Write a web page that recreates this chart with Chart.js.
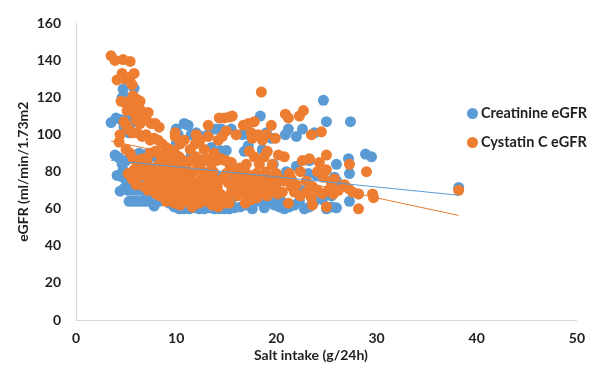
<!DOCTYPE html>
<html lang="en">

<head>
    <meta charset="UTF-8">
    <title>eGFR x Salt intake</title>
    <script src="https://cdn.jsdelivr.net/npm/chart.js@4.4.0/dist/chart.umd.min.js"></script>
    <style>
        body { margin: 0; background: #fff; }
        .caixa { position: relative; width: 595px; height: 372px; font-family: Lato, sans-serif; color: #1f1f1f; }
        .legenda { position: absolute; left: 467px; top: 104px; font-weight: bold; font-size: 14.5px; }
        .legenda div { height: 29px; line-height: 18px; white-space: nowrap; }
        .ponto { display: inline-block; width: 11px; height: 11px; border-radius: 50%; margin-right: 3px; vertical-align: -1px; }
        .titulo_x { position: absolute; left: 211px; width: 200px; top: 346px; text-align: center; font-weight: bold; font-size: 14px; }
    </style>
</head>

<body>
    <div class="caixa">
        <canvas id="grafico" width="595" height="372"></canvas>

        <!-- Legenda -->
        <div class="legenda">
            <div><span class="ponto" style="background:#5b9bd5"></span>Creatinine eGFR</div>
            <div><span class="ponto" style="background:#ed7d31"></span>Cystatin C eGFR</div>
        </div>
        <div class="titulo_x">Salt intake (g/24h)</div>
    </div>
</body>

</html>
<script>
    /* pontos [sal g/24h, eGFR] */
    var creatinina = [
        [3.5, 106.5], [4.0, 109], [4.5, 108], [4.8, 104], [5.1, 108], [5.5, 106],
        [4.7, 124.5], [5.8, 125], [4.6, 120], [5.0, 120], [5.5, 115], [5.3, 101],
        [3.9, 89], [4.3, 87.5], [4.6, 84], [5.0, 86], [4.7, 81], [4.1, 78], [4.5, 77.5], [4.9, 76], [5.2, 74],
        [4.4, 69.5], [4.8, 71], [5.2, 70], [5.6, 70], [6.0, 70], [6.4, 70], [6.8, 70], [7.2, 67],
        [5.3, 64], [5.7, 64], [6.1, 64], [6.5, 64], [6.9, 64], [7.3, 64], [7.8, 61.5], [8.3, 64], [8.8, 64.5],
        [9.3, 63], [9.8, 61], [10.3, 60], [10.8, 60], [11.3, 60], [11.8, 60.5], [12.3, 60], [12.8, 60],
        [13.3, 60.5], [13.8, 60], [14.3, 60], [14.8, 60], [15.3, 60], [15.8, 60.5], [16.4, 61], [16.9, 62],
        [17.6, 60], [18.3, 64], [18.8, 60.5], [19.3, 64], [19.8, 62], [20.3, 61], [20.8, 60], [21.3, 61],
        [21.8, 62], [22.3, 64], [22.8, 60], [23.3, 61], [23.8, 64], [24.6, 65], [25.0, 60], [25.5, 61],
        [26.0, 60.5], [27.3, 64], [28.2, 68],
        [6.3, 90], [6.8, 89], [7.3, 90], [7.8, 88], [8.4, 84], [9.2, 88], [9.6, 84], [8.2, 74], [8.7, 72],
        [6.5, 74], [7.0, 76], [9.0, 70], [9.5, 68], [10.0, 70], [11.0, 66], [12.0, 68], [13.0, 68], [14.0, 67],
        [15.5, 65], [16.5, 70], [17.5, 70], [18.5, 66], [19.5, 66], [20.5, 64], [22.5, 70], [24.5, 66], [25.5, 67],
        [10.0, 103], [10.2, 100], [10.8, 106], [11.2, 105], [11.5, 100], [12.0, 101], [12.6, 99], [13.2, 100],
        [14.0, 103], [14.5, 103], [15.5, 103], [16.0, 100], [16.6, 100], [17.2, 100], [18.4, 110], [19.0, 101],
        [19.5, 98], [20.9, 100], [21.2, 103], [22.0, 99], [22.6, 103], [23.8, 101], [24.7, 118.5], [25.0, 107],
        [27.4, 107], [26.0, 84], [27.2, 87], [27.3, 79], [28.9, 89.5], [29.5, 88], [24.0, 78], [25.8, 77],
        [23.2, 79], [21.0, 80], [20.9, 76], [19.7, 84], [18.6, 92], [17.2, 94], [16.8, 91], [15.0, 91.5],
        [14.4, 91.5], [13.5, 93], [12.5, 86], [11.5, 89], [10.0, 95], [14.0, 78], [15.0, 77], [16.0, 79],
        [18.0, 75], [19.2, 78], [20.0, 74], [12.0, 74], [13.0, 79], [26.0, 75], [22.0, 83], [23.3, 86],
        [38.2, 71.5]
    ];

    var cistatina = [
        [3.5, 142.5], [3.9, 140], [4.7, 140.5], [5.4, 139.5],
        [4.1, 129.5], [4.6, 133], [4.9, 130], [5.4, 131], [5.8, 133], [5.6, 127],
        [4.5, 118], [4.8, 117.5], [5.3, 118], [5.7, 121], [6.1, 119], [6.4, 118],
        [5.1, 113], [5.6, 115], [5.9, 111], [6.5, 113], [6.8, 111], [7.2, 112],
        [6.0, 108], [6.4, 106], [7.0, 108], [7.5, 106], [7.9, 106], [8.3, 104],
        [4.4, 100], [4.3, 96], [4.8, 107], [5.0, 105], [5.3, 103], [5.6, 101], [6.1, 101], [6.6, 99], [7.0, 100],
        [7.4, 97], [7.8, 98], [8.2, 97], [8.6, 95], [9.0, 93], [9.4, 92], [9.9, 101], [9.9, 99], [10.4, 95], [10.8, 97],
        [5.0, 92], [5.4, 90], [5.7, 87], [6.1, 85], [6.6, 87], [7.1, 86], [7.4, 90], [7.9, 91], [8.4, 89],
        [8.9, 87], [9.3, 89], [9.8, 91], [10.3, 88], [10.7, 86],
        [5.2, 79], [5.8, 81], [5.6, 76], [6.0, 73], [6.5, 78], [7.0, 80], [7.4, 77], [7.8, 74], [8.3, 78],
        [8.8, 80], [9.2, 77], [9.7, 79], [10.2, 81], [10.7, 79], [11.2, 77], [11.7, 80], [12.2, 82], [12.7, 80],
        [13.2, 78], [13.7, 80],
        [7.2, 70], [7.6, 72], [8.1, 70], [8.6, 73], [9.1, 71], [9.6, 73], [10.1, 71], [10.6, 73], [11.1, 71],
        [11.6, 73], [12.1, 71], [12.6, 73], [13.1, 72], [13.6, 70], [14.1, 72],
        [8.4, 67], [8.9, 68], [9.4, 66], [9.9, 68], [10.4, 66], [10.9, 68], [11.4, 66], [11.9, 67], [12.4, 65],
        [12.9, 67], [13.4, 65], [13.9, 67],
        [9.8, 63], [10.4, 62], [11.6, 61], [12.3, 63], [13.6, 62], [14.2, 61], [14.8, 63],
        [7.8, 82], [8.3, 84], [8.8, 83], [9.3, 82], [9.8, 84], [10.3, 83], [10.8, 82], [6.5, 82], [7.0, 83],
        [7.5, 75], [8.0, 77], [8.5, 76], [9.0, 74], [9.5, 76], [10.0, 74], [10.5, 76], [11.0, 74], [11.5, 76],
        [12.0, 74], [12.5, 76], [13.0, 75], [13.5, 76], [14.0, 75], [6.8, 72], [7.3, 74],
        [8.0, 68], [8.5, 70], [9.0, 69], [9.5, 70], [10.0, 69], [10.5, 70], [11.0, 69], [11.5, 70], [12.0, 69],
        [12.5, 70], [13.0, 69], [13.5, 68], [14.0, 70],
        [9.0, 64], [9.5, 65], [10.0, 65], [11.0, 64], [12.0, 64], [13.0, 64], [14.0, 65],
        [11.0, 84], [11.5, 86], [12.0, 88], [12.5, 85], [13.0, 87], [13.5, 84], [14.0, 86], [14.5, 87], [15.0, 86], [15.5, 85],
        [11.4, 92], [11.9, 95], [12.4, 97], [12.0, 100], [12.8, 92], [13.2, 99], [13.8, 90],
        [13.2, 105], [14.3, 109], [14.8, 109], [15.3, 109.5], [15.6, 110], [14.2, 97], [14.6, 99], [15.0, 102], [16.0, 100],
        [16.7, 105], [17.2, 106], [17.8, 107], [17.5, 101], [17.6, 98], [18.2, 100], [18.6, 97], [19.0, 100],
        [19.5, 105], [19.9, 98], [18.5, 123],
        [15.4, 82], [15.9, 79], [16.3, 82], [16.5, 76], [17.0, 84], [17.3, 91], [17.8, 88], [18.3, 84], [18.8, 88],
        [19.1, 91], [19.6, 84], [20.2, 89], [20.8, 88],
        [14.6, 76], [15.2, 74], [15.7, 72], [16.2, 73], [16.8, 76], [17.3, 77], [17.8, 75], [18.3, 76], [18.8, 73],
        [19.3, 75], [19.8, 74], [20.3, 76], [20.8, 75], [21.3, 79],
        [15.0, 79], [16.0, 76], [17.0, 79], [18.0, 79], [19.0, 80], [20.0, 79], [21.5, 72], [17.0, 72], [18.0, 72],
        [19.0, 71], [20.0, 71],
        [14.4, 68], [15.0, 66], [15.5, 69], [16.1, 67], [16.6, 70], [17.1, 67], [17.6, 69], [18.1, 66], [18.6, 69],
        [19.1, 67], [19.6, 70], [20.1, 68], [20.6, 69],
        [15.3, 63], [16.9, 63], [17.5, 65], [21.2, 63],
        [20.9, 111], [21.2, 109], [22.3, 110], [22.7, 113], [23.5, 100], [24.5, 101.5],
        [21.5, 76], [22.0, 73], [22.4, 80], [22.6, 86], [23.3, 87], [23.0, 75], [23.6, 72], [24.1, 80], [24.3, 85],
        [25.0, 89], [25.0, 81], [24.7, 77], [25.5, 74], [25.8, 76],
        [21.8, 69], [22.4, 67], [23.0, 69], [23.5, 66], [24.1, 70], [24.6, 68], [25.2, 70], [25.7, 68], [26.2, 70],
        [26.8, 73], [27.3, 84], [27.2, 71], [27.6, 69], [28.2, 68], [29.0, 80], [29.6, 68], [29.7, 66], [28.2, 60],
        [23.6, 62], [25.0, 61], [38.2, 70]
    ];

    /* linhas de tendência (inicio e fim) */
    var tendX = [3.5, 38.2];
    var tendCreatinina = [86.2, 67.3];
    var tendCistatina = [96.6, 56.4];

    function pares(lista) {
        return lista.map(function (p) { return { x: p[0], y: p[1] }; });
    }
    function linha(ys) {
        return tendX.map(function (x, i) { return { x: x, y: ys[i] }; });
    }

    var fonteEixo = { family: 'Lato', size: 14, weight: 'bold' };

    var ctx = grafico.getContext('2d');
    var myChart = new Chart(ctx, {
        type: 'scatter',
        data: {
            datasets: [{
                label: 'Creatinine eGFR',
                data: pares(creatinina),
                backgroundColor: '#5b9bd5',
                borderWidth: 0,
                pointRadius: 5.5,
                order: 4
            }, {
                label: 'Cystatin C eGFR',
                data: pares(cistatina),
                backgroundColor: '#ed7d31',
                borderWidth: 0,
                pointRadius: 5.5,
                order: 3
            }, {
                type: 'line',
                data: linha(tendCreatinina),
                borderColor: '#5b9bd5',
                borderWidth: 1,
                pointRadius: 0,
                order: 1
            }, {
                type: 'line',
                data: linha(tendCistatina),
                borderColor: '#ed7d31',
                borderWidth: 1,
                pointRadius: 0,
                order: 2
            }]
        },
        options: {
            responsive: false,
            animation: false,
            layout: { padding: { left: 0, right: 15, top: 19, bottom: 0 } },
            plugins: {
                legend: { display: false },
                tooltip: { enabled: false }
            },
            scales: {
                x: {
                    type: 'linear',
                    min: 0,
                    max: 50,
                    ticks: { stepSize: 10, font: fonteEixo, color: '#1f1f1f', padding: 10 },
                    grid: { display: false, drawTicks: false },
                    border: { color: '#d9d9d9' },
                    afterFit: function (s) { s.height = 52; }
                },
                y: {
                    min: 0,
                    max: 160,
                    ticks: { stepSize: 20, font: fonteEixo, color: '#1f1f1f', padding: 15 },
                    grid: { display: false, drawTicks: false },
                    border: { color: '#d9d9d9' },
                    title: {
                        display: true,
                        text: 'eGFR (ml/min/1.73m2',
                        font: fonteEixo,
                        color: '#1f1f1f',
                        padding: { top: 15, bottom: 0 }
                    },
                    afterFit: function (s) { s.width = 76; }
                }
            }
        }
    });
</script>
